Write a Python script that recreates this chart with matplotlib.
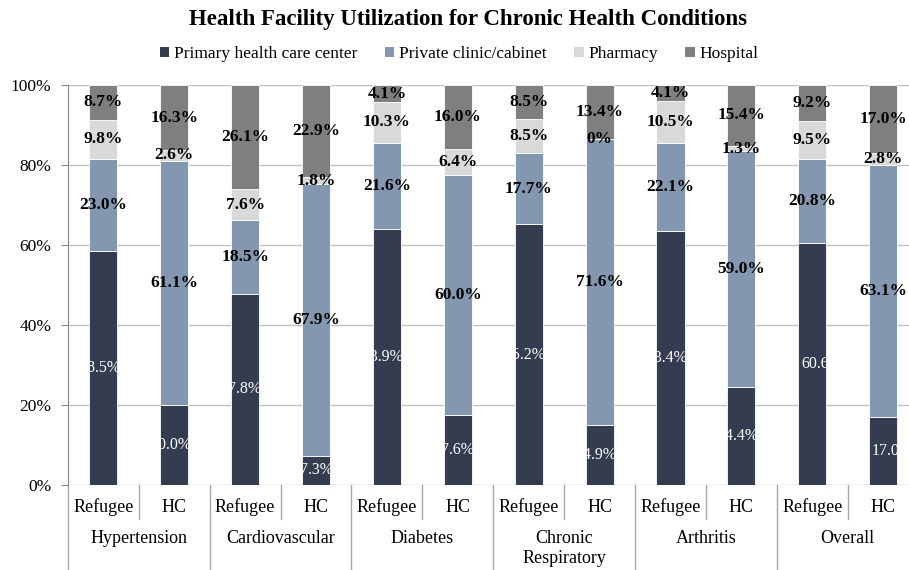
import matplotlib
matplotlib.use("Agg")
import matplotlib.pyplot as plt
import numpy as np
from matplotlib.patches import Patch
import matplotlib.transforms as mtransforms

plt.rcParams['font.family'] = ['Liberation Serif', 'DejaVu Serif']

groups = ["Hypertension", "Cardiovascular", "Diabetes", "Chronic\nRespiratory", "Arthritis", "Overall"]
subgroups = ["Refugee", "HC"]
series_names = ["Primary health care center", "Private clinic/cabinet", "Pharmacy", "Hospital"]
primary = [58.5, 20.0, 47.8, 7.3, 63.9, 17.6, 65.2, 14.9, 63.4, 24.4, 60.6, 17.0]
private = [23.0, 61.1, 18.5, 67.9, 21.6, 60.0, 17.7, 71.6, 22.1, 59.0, 20.8, 63.1]
pharmacy = [9.8, 2.6, 7.6, 1.8, 10.3, 6.4, 8.5, 0.0, 10.5, 1.3, 9.5, 2.8]
hospital = [8.7, 16.3, 26.1, 22.9, 4.1, 16.0, 8.5, 13.4, 4.1, 15.4, 9.2, 17.0]
colors = ["#333d4f", "#8497b0", "#d9d9d9", "#7f7f7f"]

W, H = 909, 570
fig = plt.figure(figsize=(W/100, H/100), dpi=100)
x0px, slot = 67.85, 70.9
ax = fig.add_axes([x0px/W, 1-485/H, 12*slot/W, 400/H])

x = np.arange(len(primary))
bw = 0.395
data = [primary, private, pharmacy, hospital]
bottom = np.zeros(len(x))
containers = []
for vals, c, name in zip(data, colors, series_names):
    bc = ax.bar(x, vals, bw, bottom=bottom, color=c, edgecolor='white', linewidth=0.6, label=name, zorder=3)
    containers.append((bc, np.array(vals), bottom.copy()))
    bottom = bottom + np.array(vals)

def fmt(v):
    return "0%" if v == 0 else f"{v:.1f}%"

# labels
for si, (bc, vals, bot) in enumerate(containers):
    for i, (rect, v, b) in enumerate(zip(bc.patches, vals, bot)):
        yc = b + v/2
        if si == 0:
            if i < 10:
                t = ax.annotate(fmt(v), (i + bw/2, yc), xytext=(2, 0), textcoords='offset points',
                                ha='right', va='center', color='white', fontsize=11.5, zorder=5)
            else:
                t = ax.annotate(fmt(v), (i - bw/2, yc), xytext=(2, 0), textcoords='offset points',
                                ha='left', va='center', color='white', fontsize=11.5, zorder=5)
            t.set_clip_path(rect)
            t.set_clip_on(True)
        else:
            ax.text(i, yc, fmt(v), ha='center', va='center', color='black',
                    fontsize=12.5, fontweight='bold', zorder=5)

ax.set_xlim(-0.5, 11.5)
ax.set_ylim(0, 100)
ax.set_yticks(np.arange(0, 101, 20))
ax.set_yticklabels([f"{v}%" for v in range(0, 101, 20)], fontsize=12.5)
ax.yaxis.grid(True, color='#c0c0c0', linewidth=1, zorder=0)
ax.set_axisbelow(True)
ax.set_xticks([])
for s in ['top', 'right', 'bottom']:
    ax.spines[s].set_visible(False)
ax.spines['left'].set_color('#868686')
ax.tick_params(axis='y', length=5, color='#868686', pad=7)

# category table
trans = mtransforms.blended_transform_factory(ax.transData, ax.transAxes)
bot_ax = (485 - 570) / 400
for i in range(13):
    xb = i - 0.5
    yb = bot_ax if i % 2 == 0 else (485 - 519) / 400
    ax.plot([xb, xb], [0, yb], transform=trans, color='#a6a6a6', lw=1, clip_on=False)
for i in range(len(x)):
    ax.text(i, (485 - 507) / 400, subgroups[i % 2], transform=trans, ha='center', va='center', fontsize=13)
for g, name in enumerate(groups):
    ax.text(2*g + 0.5, (485 - 530) / 400, name, transform=trans, ha='center', va='top', fontsize=13, linespacing=1.2)

fig.text(468/W, 1-19/H, "Health Facility Utilization for Chronic Health Conditions", ha='center', va='center',
         fontsize=16.5, fontweight='bold')
handles = [Patch(facecolor=c, edgecolor='none') for c in colors]
fig.legend(handles, series_names, loc='center', bbox_to_anchor=(459/W, 1-54/H), ncol=4, frameon=False,
           fontsize=12.5, handlelength=0.55, handleheight=0.55, handletextpad=0.25, columnspacing=1.6)

fig.savefig("out.png", dpi=100)
